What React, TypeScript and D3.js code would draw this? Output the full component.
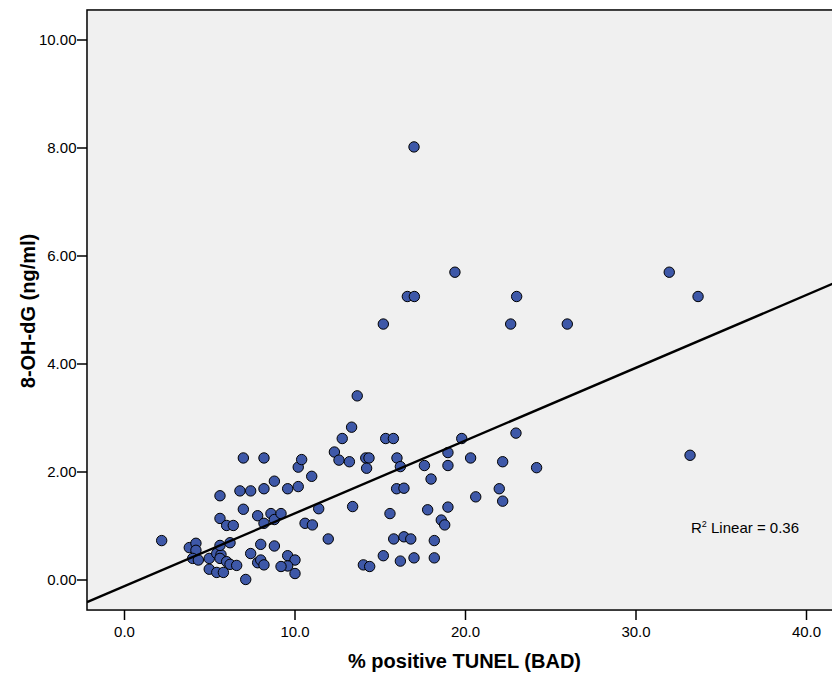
import React from "react";
import * as d3 from "d3";

const tunelPct: number[] = [
  2.18, 3.8, 4.19, 4.19, 4.0, 4.33, 4.97, 4.97, 5.41, 5.8,
  5.6, 5.6, 5.99, 6.38, 6.97, 8.18, 6.77, 7.4, 8.18, 8.79,
  6.97, 7.81, 8.18, 8.59, 8.79, 9.18, 7.99, 8.79, 7.4, 7.81,
  7.99, 8.18, 7.11, 9.57, 10.0, 9.57, 9.18, 10.0, 10.19, 10.39,
  9.57, 10.19, 10.98, 11.39, 10.59, 11.02, 11.95, 5.41, 5.66, 5.6,
  5.99, 6.19, 6.58, 5.6, 6.19, 13.65, 13.32, 12.77, 12.31, 12.58,
  13.19, 15.32, 15.77, 14.15, 14.34, 14.2, 15.98, 16.18, 15.96, 16.39,
  17.59, 17.98, 18.97, 18.97, 19.78, 22.96, 20.3, 22.18, 24.17, 21.98,
  20.6, 22.18, 18.97, 18.58, 18.78, 17.78, 15.57, 13.38, 15.79, 16.39,
  16.79, 18.17, 15.18, 14.01, 14.38, 16.18, 16.98, 18.17, 33.17, 16.98,
  19.38, 16.59, 17.0, 23.0, 15.18, 22.65, 25.97, 31.95, 33.64,
];

const ohdg: number[] = [
  0.73, 0.6, 0.68, 0.55, 0.4, 0.37, 0.4, 0.2, 0.14, 0.14,
  1.56, 1.14, 1.01, 1.01, 2.26, 2.26, 1.65, 1.65, 1.69, 1.83,
  1.31, 1.19, 1.05, 1.23, 1.12, 1.23, 0.66, 0.63, 0.49, 0.32,
  0.37, 0.28, 0.01, 0.45, 0.37, 0.26, 0.25, 0.12, 2.09, 2.23,
  1.69, 1.73, 1.92, 1.32, 1.05, 1.02, 0.76, 0.49, 0.47, 0.4,
  0.34, 0.29, 0.27, 0.64, 0.69, 3.41, 2.83, 2.62, 2.37, 2.22,
  2.19, 2.62, 2.62, 2.26, 2.26, 2.07, 2.26, 2.1, 1.69, 1.7,
  2.12, 1.87, 2.36, 2.12, 2.62, 2.72, 2.26, 2.19, 2.08, 1.69,
  1.54, 1.46, 1.35, 1.11, 1.02, 1.3, 1.23, 1.36, 0.76, 0.8,
  0.76, 0.73, 0.45, 0.28, 0.25, 0.35, 0.41, 0.41, 2.31, 8.02,
  5.7, 5.25, 5.25, 5.25, 4.74, 4.74, 4.74, 5.7, 5.25,
];

const xTicks: number[] = [0, 10, 20, 30, 40];
const yTicks: number[] = [0, 2, 4, 6, 8, 10];
const fitIntercept = -0.113;
const fitSlope = 0.1348;
const xDomainExt: [number, number] = [-2.2, 42.0];
const yDomainExt: [number, number] = [-0.556, 10.556];

export default function App() {
  const W = 832;
  const H = 677;
  const x = d3.scaleLinear().domain([0, 40]).range([124.5, 806.5]);
  const y = d3.scaleLinear().domain([0, 10]).range([580, 40]);
  const left = x(xDomainExt[0]);
  const right = x(xDomainExt[1]);
  const top = y(yDomainExt[1]);
  const bottom = y(yDomainExt[0]);
  const fx = d3.format(".1f");
  const fy = d3.format(".2f");
  const line = d3
    .line<number>()
    .x((d) => x(d))
    .y((d) => y(fitIntercept + fitSlope * d));
  const font = "Liberation Sans, Arial, sans-serif";

  return (
    <svg
      width={W}
      height={H}
      style={{ position: "absolute", left: 0, top: 0 }}
      fontFamily={font}
    >
      <rect x={0} y={0} width={W} height={H} fill="#ffffff" />
      <defs>
        <clipPath id="plotclip">
          <rect x={left} y={top} width={right - left} height={bottom - top} />
        </clipPath>
      </defs>
      <rect x={left} y={top} width={right - left} height={bottom - top} fill="#f0f0f0" />
      <g clipPath="url(#plotclip)">
        {tunelPct.map((v, i) => (
          <circle
            key={i}
            cx={x(v)}
            cy={y(ohdg[i])}
            r={5.2}
            fill="#3e58a8"
            stroke="#000"
            strokeWidth={1}
          />
        ))}
        <path d={line(xDomainExt) || ""} stroke="#000" strokeWidth={2.4} fill="none" />
      </g>
      <rect
        x={left}
        y={top}
        width={right - left}
        height={bottom - top}
        fill="none"
        stroke="#000"
        strokeWidth={1.5}
      />
      {yTicks.map((t) => (
        <g key={"y" + t}>
          <line x1={left - 10} x2={left} y1={y(t)} y2={y(t)} stroke="#000" strokeWidth={1.5} />
          <text x={left - 10.5} y={y(t)} dy="0.36em" textAnchor="end" fontSize={15} fill="#000">
            {fy(t)}
          </text>
        </g>
      ))}
      {xTicks.map((t) => (
        <g key={"x" + t}>
          <line x1={x(t)} x2={x(t)} y1={bottom} y2={bottom + 10} stroke="#000" strokeWidth={1.5} />
          <text x={x(t)} y={bottom + 26.5} textAnchor="middle" fontSize={15} fill="#000">
            {fx(t)}
          </text>
        </g>
      ))}
      <text x={464.5} y={668} textAnchor="middle" fontSize={20} fontWeight="bold" fill="#000">
        % positive TUNEL (BAD)
      </text>
      <text
        transform={`translate(35, 311) rotate(-90)`}
        textAnchor="middle"
        fontSize={20}
        fontWeight="bold"
        fill="#000"
      >
        8-OH-dG (ng/ml)
      </text>
      <text x={691} y={533} fontSize={15} fill="#000">
        R<tspan fontSize={9} dy={-6}>2</tspan>
        <tspan dy={6}> Linear = 0.36</tspan>
      </text>
    </svg>
  );
}
